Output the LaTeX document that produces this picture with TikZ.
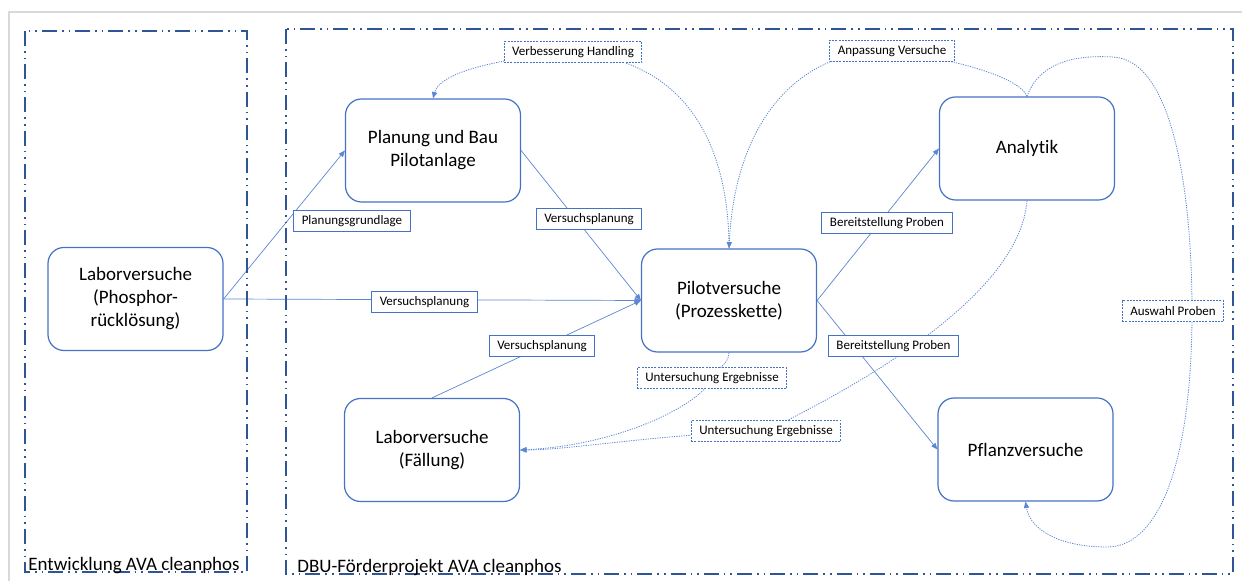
\documentclass[tikz,border=0pt]{standalone}
\usepackage{fontspec}
\setmainfont{Carlito}[Ligatures={NoCommon}]
\usetikzlibrary{arrows.meta,backgrounds,positioning}
\definecolor{BoxBlue}{RGB}{68,114,196}
\definecolor{FrameBlue}{RGB}{47,85,151}
\definecolor{LineBlue}{RGB}{91,134,210}
\definecolor{FrameGray}{RGB}{217,217,217}

\begin{document}
\begin{tikzpicture}[x=0.5pt, y=-0.5pt,
	kasten/.style={draw=BoxBlue, line width=0.6pt, rounded corners=8pt, minimum width=87.5pt, minimum height=51.5pt, align=center, font=\fontsize{9.5}{11.5}\selectfont},
	etikett/.style={draw=BoxBlue, line width=0.5pt, fill=white, inner xsep=4pt, inner ysep=0pt, minimum height=10.5pt, font=\fontsize{6.5}{8}\selectfont},
	etikettpkt/.style={etikett, dash pattern=on 1pt off 0.6pt},
	pfeil/.style={draw=LineBlue, line width=0.35pt, -{Triangle[length=3.2pt,width=2.6pt]}},
	rueck/.style={draw=LineBlue, line width=0.4pt, dash pattern=on 0.6pt off 0.6pt, -{Triangle[length=3.2pt,width=2.6pt]}},
	bereich/.style={draw=FrameBlue, line width=0.9pt, dash pattern=on 7.5pt off 2.5pt on 0.8pt off 2.5pt on 0.8pt off 2.5pt},
	bereichtext/.style={anchor=base west, inner sep=0pt, font=\fontsize{9.5}{11.5}\selectfont}]
		\clip (0,0) rectangle (1242,581);
		\draw[FrameGray, line width=0.8pt] (9,12) rectangle (1260,600);
		
		% Projektbereiche
		\draw[bereich] (25,31) rectangle (247,572);
		\draw[bereich] (286,29) rectangle (1233,574);
		\node[bereichtext] (entw) at (28,571) {Entwicklung AVA cleanphos};
		\node[bereichtext] (dbu) at (297,573) {DBU-Förderprojekt AVA cleanphos};
		
		% Arbeitspakete
		\node[kasten] (labP) at (135.5,299) {Laborversuche\\(Phosphor-\\rücklösung)};
		\node[kasten] (plan) at (433,150.5) {Planung und Bau\\Pilotanlage};
		\node[kasten] (pilot) at (729,300.5) {Pilotversuche\\(Prozesskette)};
		\node[kasten] (ana) at (1027,148.5) {Analytik};
		\node[kasten] (labF) at (432,450) {Laborversuche\\(Fällung)};
		\node[kasten] (pfl) at (1025.5,449.5) {Pflanzversuche};
		
		% Beschriftungen
		\node[etikett] (pg) at (352,221) {Planungsgrundlage};
		\node[etikett] (vp1) at (589,219) {Versuchsplanung};
		\node[etikett] (vp2) at (424.5,302.5) {Versuchsplanung};
		\node[etikett] (vp3) at (542,346.5) {Versuchsplanung};
		\node[etikett] (bp1) at (887,223.5) {Bereitstellung Proben};
		\node[etikett] (bp2) at (893.5,346.5) {Bereitstellung Proben};
		\node[etikettpkt] (vh) at (573,52.5) {Verbesserung Handling};
		\node[etikettpkt] (av) at (892,51) {Anpassung Versuche};
		\node[etikettpkt] (ue1) at (712,378.5) {Untersuchung Ergebnisse};
		\node[etikettpkt] (ue2) at (766,431) {Untersuchung Ergebnisse};
		\node[etikettpkt] (ap) at (1173,311.5) {Auswahl Proben};
		
		\coordinate (schleifeO) at (1113,57);
		\coordinate (schleifeU) at (1107,547);
		
		\begin{scope}[on background layer]
			% Hauptfluss
			\draw[pfeil] (labP.east) -- (plan.west);
			\draw[pfeil] (labP.east) -- (pilot.west);
			\draw[pfeil] (plan.east) -- (pilot.west);
			\draw[pfeil] (labF.north) -- (pilot.west);
			\draw[pfeil] (pilot.east) -- (ana.west);
			\draw[pfeil] (pilot.east) -- (pfl.west);
			% Rückkopplungen
			\draw[rueck] (pilot.north) .. controls (729,150) and (690,60) .. (vh.center) .. controls (500,58) and (440,72) .. (plan.north);
			\draw[rueck] (ana.north) .. controls (1020,78) and (960,60) .. (av.center) .. controls (800,48) and (735,120) .. (pilot.north);
			\draw[rueck] (ana.north) .. controls (1040,60) and (1080,55) .. (schleifeO) .. controls (1175,60) and (1192,200) .. ([xshift=9.5pt]ap.center) .. controls (1192,460) and (1160,547) .. (schleifeU) .. controls (1060,547) and (1030,530) .. (pfl.south);
			\draw[rueck] (pilot.south) .. controls (729,365) and (714,370) .. (ue1.center) .. controls (700,405) and (620,445) .. (labF.east);
			\draw[rueck] (ana.south) .. controls (1020,290) and (880,375) .. (ue2.center) .. controls (650,435) and (570,450) .. (labF.east);
		\end{scope}
	\end{tikzpicture}
\end{document}
